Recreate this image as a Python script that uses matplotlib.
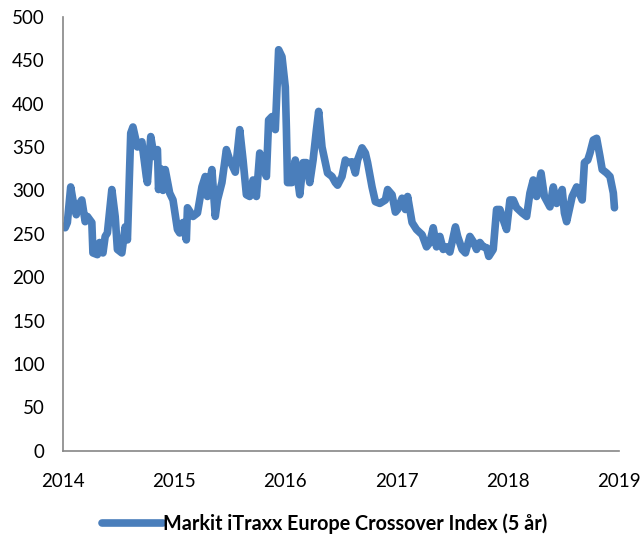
import matplotlib.pyplot as plt

plt.rcParams['font.family'] = ['Lato', 'DejaVu Sans']

# approximate weekly readings, decimal years
years = [2014.02, 2014.04, 2014.07, 2014.09, 2014.12, 2014.13, 2014.17, 2014.20, 2014.22, 2014.26,
         2014.27, 2014.31, 2014.33, 2014.36, 2014.38, 2014.40, 2014.44, 2014.47, 2014.49, 2014.53,
         2014.56, 2014.58, 2014.61, 2014.63, 2014.67, 2014.71, 2014.75, 2014.76, 2014.79, 2014.82,
         2014.85, 2014.86, 2014.88, 2014.90, 2014.92, 2014.96, 2014.99, 2015.03, 2015.05, 2015.08,
         2015.11, 2015.12, 2015.17, 2015.21, 2015.25, 2015.28, 2015.30, 2015.34, 2015.37, 2015.39,
         2015.43, 2015.47, 2015.50, 2015.55, 2015.59, 2015.62, 2015.65, 2015.68, 2015.71, 2015.74,
         2015.77, 2015.80, 2015.83, 2015.85, 2015.88, 2015.91, 2015.94, 2015.97, 2016.00, 2016.01,
         2016.02, 2016.06, 2016.09, 2016.10, 2016.13, 2016.16, 2016.19, 2016.22, 2016.25, 2016.28,
         2016.30, 2016.33, 2016.36, 2016.38, 2016.42, 2016.45, 2016.47, 2016.51, 2016.54, 2016.56,
         2016.60, 2016.63, 2016.65, 2016.69, 2016.72, 2016.74, 2016.78, 2016.81, 2016.85, 2016.90,
         2016.92, 2016.96, 2016.99, 2017.01, 2017.05, 2017.08, 2017.10, 2017.14, 2017.18, 2017.23,
         2017.27, 2017.30, 2017.33, 2017.36, 2017.39, 2017.42, 2017.45, 2017.48, 2017.53, 2017.55,
         2017.59, 2017.62, 2017.66, 2017.69, 2017.72, 2017.75, 2017.78, 2017.81, 2017.83, 2017.87,
         2017.88, 2017.90, 2017.93, 2017.96, 2017.99, 2018.02, 2018.05, 2018.08, 2018.13, 2018.17,
         2018.20, 2018.23, 2018.26, 2018.30, 2018.33, 2018.38, 2018.41, 2018.44, 2018.49, 2018.51,
         2018.53, 2018.58, 2018.62, 2018.67, 2018.69, 2018.72, 2018.74, 2018.77, 2018.80, 2018.83,
         2018.85, 2018.89, 2018.92, 2018.95, 2018.96]
spread = [257, 263, 304, 289, 272, 281, 289, 264, 270, 263,
          228, 226, 240, 228, 247, 251, 301, 270, 232, 228,
          258, 243, 366, 373, 350, 356, 316, 309, 362, 339,
          347, 301, 325, 300, 324, 297, 289, 255, 251, 263,
          243, 280, 270, 274, 304, 316, 293, 324, 270, 289,
          309, 347, 335, 321, 370, 335, 295, 293, 312, 293,
          343, 327, 316, 381, 385, 370, 462, 454, 419, 370,
          309, 309, 335, 324, 295, 332, 332, 309, 335, 370,
          391, 350, 332, 320, 316, 309, 306, 316, 335, 332,
          333, 320, 335, 349, 343, 332, 304, 287, 285, 289,
          301, 295, 275, 278, 291, 278, 293, 263, 255, 249,
          235, 240, 257, 235, 247, 232, 235, 229, 258, 247,
          232, 228, 247, 241, 232, 240, 235, 234, 224, 232,
          247, 278, 278, 266, 255, 289, 289, 280, 274, 270,
          297, 312, 293, 320, 293, 281, 304, 285, 301, 274,
          264, 293, 304, 289, 332, 335, 343, 358, 360, 339,
          324, 320, 316, 297, 280]

label = 'Markit iTraxx Europe Crossover Index (5 år)'
year_ticks = [2014, 2015, 2016, 2017, 2018, 2019]

fig = plt.figure(figsize=(6.42, 5.40), dpi=100)
ax = fig.add_axes([0.098, 0.165, 0.866, 0.804])

ax.plot(years, spread, color='#4A7EBB', linewidth=5.5, solid_joinstyle='round',
        solid_capstyle='round', label=label)

ax.set_xlim(2014, 2019)
ax.set_ylim(0, 500)
ax.set_yticks(range(0, 501, 50))
ax.set_xticks(year_ticks)
ax.set_xticklabels([str(y) for y in year_ticks])
ax.tick_params(length=0, labelsize=13.5, colors='black')
ax.tick_params(axis='y', pad=13)
ax.tick_params(axis='x', pad=16)

for s in ['top', 'right']:
    ax.spines[s].set_visible(False)
for s in ['left', 'bottom']:
    ax.spines[s].set_color('#868686')
    ax.spines[s].set_linewidth(1.2)

fig.legend(loc='lower center', bbox_to_anchor=(0.505, -0.022), frameon=False,
           handlelength=3.1, handletextpad=0.0,
           prop={'size': 14.2, 'weight': 'bold'})

fig.savefig('out.png', dpi=100)
